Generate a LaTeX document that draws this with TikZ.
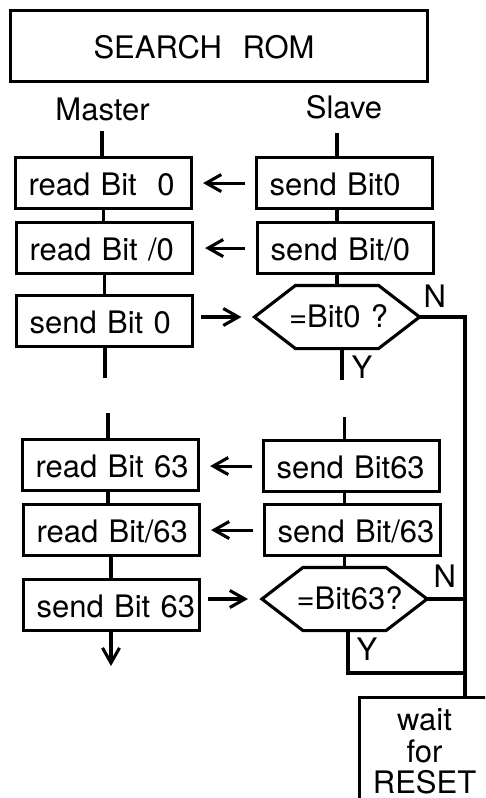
\documentclass[tikz,border=0pt]{standalone}
\usepackage{fontspec}
\setmainfont{TeX Gyre Heros}
\usetikzlibrary{arrows.meta}

\begin{document}
\begin{tikzpicture}[x=1pt,y=-1pt,line width=3.1pt,
  every node/.style={font=\fontsize{31}{31.5}\selectfont,inner sep=0pt},
  keepline/.style={execute at begin node=\hbox\bgroup,execute at end node=\egroup},
  stepbox/.style={draw,anchor=north west,minimum width=176pt,minimum height=51pt,
    text width=150pt,inner xsep=13pt,align=left,text height=25pt,text depth=0pt,keepline},
  testbox/.style={minimum width=162pt,minimum height=60pt,text width=96pt,
    inner xsep=33pt,align=left,text height=21pt,text depth=0pt,keepline},
  msg/.style={-{Straight Barb[length=15pt,width=17pt]}},
  tag/.style={anchor=base west},
]
\useasboundingbox (0,0) rectangle (485,798);
\clip (0,0) rectangle (485,798);

% heading
\node[draw,anchor=north west,minimum width=417pt,minimum height=71pt,text width=251pt,
  inner xsep=83pt,align=left,text height=25pt,text depth=0pt] (title) at (9,9) {SEARCH\ \ ROM};
\node[anchor=base] (master) at (102.5,120) {Master};
\node[anchor=base] (slave) at (344,118) {Slave};

% bit 0
\node[stepbox] (m1) at (14,156) {read Bit\ \ 0};
\node[stepbox] (m2) at (15,221) {read Bit /0};
\node[stepbox] (m3) at (15,294) {send Bit 0};
\node[stepbox] (s1) at (255,156) {send Bit0};
\node[stepbox] (s2) at (256,221) {send Bit/0};
\node[testbox] (h1) at (337,317) {=Bit0 ?};

% bit 63
\node[stepbox] (m4) at (21,438) {read Bit 63};
\node[stepbox] (m5) at (22,503) {read Bit/63};
\node[stepbox] (m6) at (22,578) {send Bit 63};
\node[stepbox] (s4) at (262,439) {send Bit63};
\node[stepbox] (s5) at (263,503) {send Bit/63};
\node[testbox] (h2) at (344.5,599) {=Bit63?};

% comparison outlines
\foreach \h in {h1,h2}
  \draw (\h.west) -- ([xshift=41pt]\h.north west) -- ([xshift=-41pt]\h.north east)
    -- (\h.east) -- ([xshift=-41pt]\h.south east) -- ([xshift=41pt]\h.south west) -- cycle;

% reset box
\node[draw,anchor=north west,minimum width=130pt,minimum height=108pt,text width=110pt,
  inner xsep=10pt,align=center] (wait) at (358,696) {wait\\for\\RESET};

% helper points
\coordinate (mtop) at (102,131);
\coordinate (stop) at (337,133);
\coordinate (mgapa) at (105,378);
\coordinate (mgapb) at (108,413);
\coordinate (sgapa) at (342,380);
\coordinate (sgapb) at (344.5,417);
\coordinate (rail) at (465,0);
\coordinate (ycorner) at (348,673);
\coordinate (mend) at (111,666);

% master column
\draw (mtop) -- (mtop |- m1.north);
\draw (m1.south) -- (m1.south |- m2.north);
\draw (m2.south) -- (m2.south |- m3.north);
\draw (mgapa |- m3.south) -- (mgapa);
\draw (mgapb) -- (mgapb |- m4.north);
\draw (mgapb |- m4.south) -- (mgapb |- m5.north);
\draw (mend |- m5.south) -- (mend |- m6.north);
\draw[msg] (mend |- m6.south) -- (mend);

% slave column
\draw (stop) -- (stop |- s1.north);
\draw (stop |- s1.south) -- (stop |- s2.north);
\draw (stop |- s2.south) -- (h1.north);
\draw (sgapa |- h1.south) -- (sgapa);
\draw (sgapb) -- (sgapb |- s4.north);
\draw (sgapb |- s4.south) -- (sgapb |- s5.north);
\draw (sgapb |- s5.south) -- (h2.north);

% bit transfers
\draw[msg,shorten <=10pt,shorten >=10pt] (s1.west) -- (s1.west -| m1.east);
\draw[msg,shorten <=11pt,shorten >=11pt] (s2.west) -- (s2.west -| m2.east);
\draw[msg,shorten <=7pt,shorten >=13pt] (h1.west -| m3.east) -- (h1.west);
\draw[msg,shorten <=10pt,shorten >=10pt] (s4.west) -- (s4.west -| m4.east);
\draw[msg,shorten <=10pt,shorten >=10pt] (s5.west) -- (s5.west -| m5.east);
\draw[msg,shorten <=7pt,shorten >=14pt] (h2.west -| m6.east) -- (h2.west);

% decisions
\draw (h1.east) -- (h1.east -| rail) -- (rail |- wait.north);
\draw (h2.east) -- (h2.east -| rail);
\draw (ycorner |- h2.south) -- (ycorner) -- (ycorner -| rail);
\node[tag] (n1) at (422,307) {N};
\node[tag] (n2) at (432,587) {N};
\node[tag] (y1) at (350,378) {Y};
\node[tag] (y2) at (355,660) {Y};
\end{tikzpicture}
\end{document}
